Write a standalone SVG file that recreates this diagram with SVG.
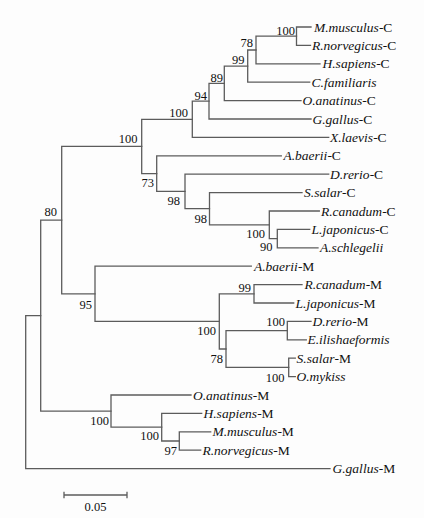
<svg xmlns="http://www.w3.org/2000/svg" width="424" height="518" viewBox="0 0 424 518">
<style>
.br{fill:none;stroke:#5c5c5c;stroke-width:1.3;stroke-linecap:square}
.bs{font-family:"Liberation Serif","Times New Roman",serif;font-size:12.5px;fill:#111;text-anchor:end}
.lf{font-family:"Liberation Serif","Times New Roman",serif;font-size:13.5px;fill:#111}
.i{font-style:italic}
</style>
<rect width="424" height="518" fill="#fdfdfd"/>
<g id="connectors">
<path class="br" d="M311 27H296.5V45.4H310.5"/>
<path class="br" d="M296.5 36.2H256V63.8H320"/>
<path class="br" d="M256 50H247.7V82.2H309.7"/>
<path class="br" d="M247.7 66.1H224.3V100.6H301"/>
<path class="br" d="M224.3 83.35H209V119H311"/>
<path class="br" d="M209 101.2H192.3V137.4H328.7"/>
<path class="br" d="M192.3 119.3H141.7V173.6H156.7"/>
<path class="br" d="M281.3 155.8H156.7V191.45H185"/>
<path class="br" d="M328.7 174.2H185V208.7H209.5"/>
<path class="br" d="M302 192.6H209.5V224.8H269.3"/>
<path class="br" d="M319.3 211H269.3V238.6H277.3"/>
<path class="br" d="M309.7 229.4H277.3V247.8H318"/>
<path class="br" d="M141.7 146.45H61.7V293.8H95"/>
<path class="br" d="M251.3 266.2H95V321.4H219.3"/>
<path class="br" d="M254 293.8H219.3V349H226"/>
<path class="br" d="M302 284.6H254V303H293.7"/>
<path class="br" d="M287.3 330.6H226V367.4H288.7"/>
<path class="br" d="M311 321.4H287.3V339.8H306.3"/>
<path class="br" d="M295.3 358.2H288.7V376.6H295.3"/>
<path class="br" d="M61.7 220.1H40.7V411.1H111"/>
<path class="br" d="M191 395H111V427.2H161.7"/>
<path class="br" d="M201.7 413.4H161.7V441H179.3"/>
<path class="br" d="M210.7 431.8H179.3V450.2H200.7"/>
<path class="br" d="M40.7 315.6H25.7V468.6H330"/>
<path class="br" d="M64 495H127M64 492.5V497.5M127 492.5V497.5"/>
</g>
<g id="leaves">
<g id="leaf-mmus-c"><text class="lf" x="314" y="31.5"><tspan class="i">M.musculus</tspan>-C</text></g>
<g id="leaf-rnor-c"><text class="lf" x="312" y="49.9"><tspan class="i">R.norvegicus</tspan>-C</text></g>
<g id="leaf-hsap-c"><text class="lf" x="322.5" y="68.3"><tspan class="i">H.sapiens</tspan>-C</text></g>
<g id="leaf-cfam"><text class="lf" x="311.5" y="86.7"><tspan class="i">C.familiaris</tspan></text></g>
<g id="leaf-oana-c"><text class="lf" x="302.5" y="105.1"><tspan class="i">O.anatinus</tspan>-C</text></g>
<g id="leaf-ggal-c"><text class="lf" x="312.5" y="123.5"><tspan class="i">G.gallus</tspan>-C</text></g>
<g id="leaf-xlae-c"><text class="lf" x="330" y="141.9"><tspan class="i">X.laevis</tspan>-C</text></g>
<g id="leaf-abae-c"><text class="lf" x="283.5" y="160.3"><tspan class="i">A.baerii</tspan>-C</text></g>
<g id="leaf-drer-c"><text class="lf" x="330" y="178.7"><tspan class="i">D.rerio</tspan>-C</text></g>
<g id="leaf-ssal-c"><text class="lf" x="304" y="197.1"><tspan class="i">S.salar</tspan>-C</text></g>
<g id="leaf-rcan-c"><text class="lf" x="321" y="215.5"><tspan class="i">R.canadum</tspan>-C</text></g>
<g id="leaf-ljap-c"><text class="lf" x="311.5" y="233.9"><tspan class="i">L.japonicus</tspan>-C</text></g>
<g id="leaf-asch"><text class="lf" x="320" y="252.3"><tspan class="i">A.schlegelii</tspan></text></g>
<g id="leaf-abae-m"><text class="lf" x="254" y="270.7"><tspan class="i">A.baerii</tspan>-M</text></g>
<g id="leaf-rcan-m"><text class="lf" x="304.5" y="289.1"><tspan class="i">R.canadum</tspan>-M</text></g>
<g id="leaf-ljap-m"><text class="lf" x="295.5" y="307.5"><tspan class="i">L.japonicus</tspan>-M</text></g>
<g id="leaf-drer-m"><text class="lf" x="312.5" y="325.9"><tspan class="i">D.rerio</tspan>-M</text></g>
<g id="leaf-eili"><text class="lf" x="307.5" y="344.3"><tspan class="i">E.ilishaeformis</tspan></text></g>
<g id="leaf-ssal-m"><text class="lf" x="296.5" y="362.7"><tspan class="i">S.salar</tspan>-M</text></g>
<g id="leaf-omyk"><text class="lf" x="296.5" y="381.1"><tspan class="i">O.mykiss</tspan></text></g>
<g id="leaf-oana-m"><text class="lf" x="193" y="399.5"><tspan class="i">O.anatinus</tspan>-M</text></g>
<g id="leaf-hsap-m"><text class="lf" x="203.5" y="417.9"><tspan class="i">H.sapiens</tspan>-M</text></g>
<g id="leaf-mmus-m"><text class="lf" x="212.5" y="436.3"><tspan class="i">M.musculus</tspan>-M</text></g>
<g id="leaf-rnor-m"><text class="lf" x="202.5" y="454.7"><tspan class="i">R.norvegicus</tspan>-M</text></g>
<g id="leaf-ggal-m"><text class="lf" x="332.5" y="473.1"><tspan class="i">G.gallus</tspan>-M</text></g>
</g>
<g id="bootstrap">
<g id="n-musnor"><text class="bs" x="295" y="35">100</text></g>
<g id="n-78c"><text class="bs" x="253" y="47">78</text></g>
<g id="n-99c"><text class="bs" x="244.5" y="64">99</text></g>
<g id="n-89c"><text class="bs" x="223" y="82">89</text></g>
<g id="n-94c"><text class="bs" x="207" y="99.8">94</text></g>
<g id="n-100a"><text class="bs" x="188" y="117">100</text></g>
<g id="n-100ctop"><text class="bs" x="137.5" y="142.5">100</text></g>
<g id="n-80"><text class="bs" x="57" y="215.5">80</text></g>
<g id="n-73"><text class="bs" x="154" y="187">73</text></g>
<g id="n-98a"><text class="bs" x="180" y="205.3">98</text></g>
<g id="n-98b"><text class="bs" x="207" y="222.6">98</text></g>
<g id="n-100c"><text class="bs" x="265" y="237.6">100</text></g>
<g id="n-90"><text class="bs" x="272.5" y="251">90</text></g>
<g id="n-95"><text class="bs" x="92" y="309.3">95</text></g>
<g id="n-100m"><text class="bs" x="216" y="335.3">100</text></g>
<g id="n-78m"><text class="bs" x="223" y="362.6">78</text></g>
<g id="n-99m"><text class="bs" x="251" y="291.6">99</text></g>
<g id="n-100d"><text class="bs" x="285" y="326">100</text></g>
<g id="n-100e"><text class="bs" x="284.5" y="382">100</text></g>
<g id="n-100f"><text class="bs" x="109" y="425">100</text></g>
<g id="n-100g"><text class="bs" x="159" y="440">100</text></g>
<g id="n-97"><text class="bs" x="177" y="455.3">97</text></g>
</g>
<g id="scale"><text class="bs" x="95.5" y="511" style="text-anchor:middle">0.05</text></g>
</svg>
